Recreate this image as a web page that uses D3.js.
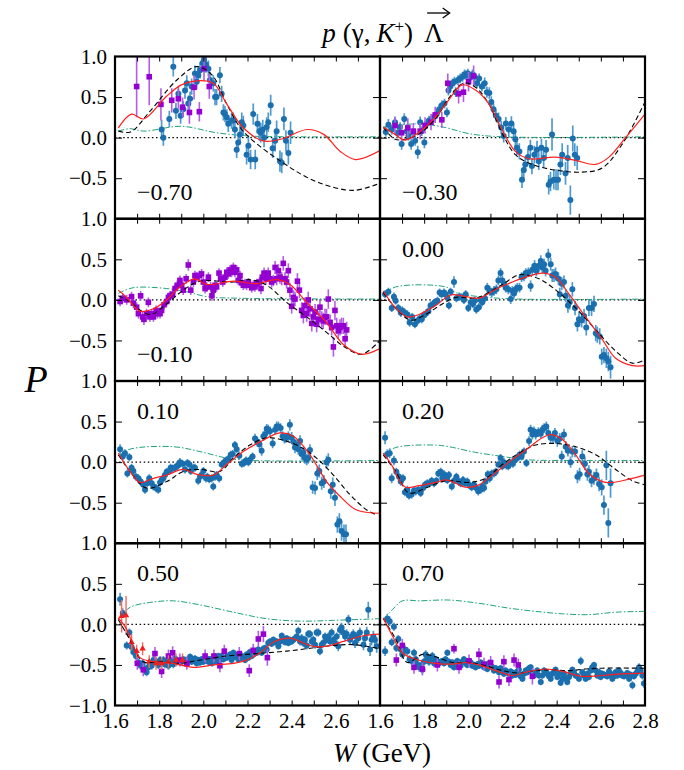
<!DOCTYPE html>
<html>
<head>
<meta charset="utf-8">
<script src="https://cdn.jsdelivr.net/npm/d3@7"></script>
<style>
  html, body { margin: 0; padding: 0; background: #fff; }
  svg { display: block; }
</style>
</head>
<body>
<script>
// Lambda recoil polarisation P vs W for p(γ,K+)Λ, one panel per cosθ bin.
// Each data point is [W (GeV), P, error]; each curve is [W, P].

const panelLabels = ["−0.70", "−0.30", "−0.10", "0.00", "0.10", "0.20", "0.50", "0.70"];
const xTickLabels = [1.6, 1.8, 2.0, 2.2, 2.4, 2.6, 2.8];
const yTickLabels = [1.0, 0.5, 0.0, -0.5];

// ---- cos = -0.70 ----
const blueM070 = [[1.811,0.10,0.12],[1.819,0.00,0.10],[1.846,0.23,0.10],[1.864,0.875,0.12],[1.876,0.33,0.10],[1.887,0.54,0.10],[1.897,0.27,0.10],[1.909,0.35,0.10],[1.917,0.58,0.10],[1.925,0.67,0.10],[1.932,0.42,0.10],[1.940,0.48,0.09],[1.947,0.63,0.10],[1.962,0.79,0.10],[1.970,0.69,0.09],[1.977,0.77,0.10],[1.985,0.83,0.10],[1.997,0.92,0.10],[2.003,0.96,0.10],[2.012,0.90,0.10],[2.023,0.85,0.10],[2.030,0.71,0.10],[2.045,0.67,0.10],[2.053,0.50,0.10],[2.060,0.50,0.10],[2.075,0.77,0.10],[2.083,0.54,0.10],[2.091,0.31,0.10],[2.098,0.29,0.10],[2.106,0.25,0.10],[2.113,0.17,0.10],[2.128,0.21,0.10],[2.136,0.21,0.10],[2.143,0.10,0.10],[2.151,-0.15,0.10],[2.158,-0.06,0.10],[2.166,0.04,0.12],[2.174,0.19,0.12],[2.181,0.15,0.12],[2.196,-0.21,0.12],[2.204,-0.10,0.12],[2.214,-0.27,0.12],[2.226,0.29,0.13],[2.235,-0.27,0.12],[2.245,0.17,0.12],[2.254,0.08,0.12],[2.260,0.06,0.12],[2.269,0.10,0.12],[2.275,0.00,0.12],[2.287,0.13,0.12],[2.294,0.19,0.12],[2.305,0.40,0.13],[2.314,-0.13,0.12],[2.325,-0.04,0.13],[2.332,0.08,0.13],[2.347,-0.29,0.13],[2.355,-0.31,0.13],[2.365,0.23,0.14],[2.374,-0.04,0.13],[2.385,-0.19,0.14],[2.395,0.06,0.14]];
const purpleM070 = [[1.698,0.63,0.38],[1.755,0.75,0.35],[1.808,0.41,0.20],[1.857,0.46,0.15],[1.887,0.48,0.12],[1.906,0.375,0.12],[1.937,0.31,0.14],[1.958,0.62,0.15],[1.982,0.32,0.12],[2.003,0.85,0.15],[2.027,0.63,0.15]];
const redM070 = [[1.615,0.12],[1.675,0.29],[1.73,0.23],[1.83,0.50],[1.90,0.65],[1.97,0.70],[2.045,0.67],[2.105,0.42],[2.18,0.125],[2.27,-0.04],[2.35,-0.02],[2.47,0.10],[2.545,0.04],[2.62,-0.17],[2.69,-0.27],[2.8,-0.16]];
const blackM070 = [[1.615,0.08],[1.67,0.07],[1.76,0.33],[1.88,0.71],[1.97,0.875],[2.04,0.77],[2.105,0.42],[2.18,0.08],[2.35,-0.29],[2.51,-0.54],[2.68,-0.65],[2.8,-0.56]];
const greenM070 = [[1.615,0.08],[1.668,0.11],[1.73,0.08],[1.90,0.14],[2.06,0.06],[2.21,0.02],[2.4,0.01],[2.8,0.01]];

// ---- cos = -0.30 ----
const blueM030 = [[1.626,0.07,0.06],[1.638,0.16,0.07],[1.653,0.10,0.06],[1.668,0.19,0.07],[1.680,0.06,0.06],[1.691,0.13,0.06],[1.698,-0.08,0.07],[1.710,0.23,0.07],[1.721,0.08,0.06],[1.729,0.02,0.06],[1.741,-0.08,0.07],[1.751,0.06,0.06],[1.759,-0.04,0.06],[1.771,-0.18,0.08],[1.782,0.19,0.07],[1.789,0.08,0.06],[1.801,-0.06,0.07],[1.812,0.17,0.06],[1.822,0.21,0.06],[1.835,0.23,0.06],[1.844,0.25,0.06],[1.857,0.29,0.06],[1.868,0.35,0.06],[1.880,0.40,0.06],[1.892,0.42,0.06],[1.903,0.31,0.06],[1.910,0.58,0.06],[1.918,0.63,0.06],[1.928,0.67,0.06],[1.937,0.69,0.06],[1.943,0.56,0.06],[1.953,0.71,0.06],[1.963,0.73,0.06],[1.974,0.75,0.06],[1.983,0.78,0.06],[1.990,0.77,0.06],[1.998,0.79,0.06],[2.009,0.74,0.06],[2.019,0.78,0.06],[2.028,0.75,0.06],[2.039,0.67,0.06],[2.049,0.73,0.06],[2.061,0.63,0.06],[2.074,0.67,0.07],[2.084,0.56,0.07],[2.095,0.55,0.07],[2.104,0.44,0.07],[2.114,0.35,0.07],[2.125,0.27,0.07],[2.137,0.23,0.08],[2.149,0.125,0.08],[2.160,0.02,0.08],[2.170,0.175,0.08],[2.183,0.10,0.09],[2.195,0.175,0.09],[2.205,0.08,0.09],[2.213,-0.02,0.09],[2.220,-0.125,0.09],[2.231,-0.17,0.10],[2.243,-0.52,0.10],[2.251,-0.40,0.10],[2.258,-0.33,0.10],[2.270,-0.24,0.10],[2.281,-0.125,0.10],[2.288,-0.35,0.10],[2.299,-0.21,0.11],[2.311,-0.15,0.11],[2.319,-0.29,0.11],[2.331,-0.125,0.11],[2.341,-0.25,0.12],[2.352,-0.15,0.12],[2.364,-0.58,0.12],[2.372,-0.54,0.12],[2.379,0.04,0.20],[2.387,-0.52,0.12],[2.397,-0.52,0.13],[2.406,-0.52,0.13],[2.417,-0.33,0.13],[2.425,-0.21,0.14],[2.440,-0.44,0.14],[2.450,-0.25,0.16],[2.462,-0.77,0.18],[2.473,-0.01,0.16],[2.482,-0.21,0.14],[2.493,-0.25,0.15]];
const purpleM030 = [[1.668,0.15,0.10],[1.698,0.06,0.10],[1.726,0.12,0.12],[1.751,0.08,0.10],[1.782,0.08,0.10],[1.804,0.15,0.10],[1.831,0.19,0.10],[1.850,0.28,0.10],[1.880,0.22,0.10],[1.907,0.67,0.12],[1.956,0.54,0.12],[1.978,0.56,0.12],[2.001,0.69,0.12],[2.024,0.76,0.13]];
const redM030 = [[1.615,0.13],[1.668,0.04],[1.713,-0.03],[1.774,0.06],[1.850,0.25],[1.910,0.46],[1.971,0.65],[2.031,0.59],[2.092,0.42],[2.152,0.10],[2.213,-0.17],[2.273,-0.26],[2.394,-0.24],[2.485,-0.28],[2.576,-0.33],[2.637,-0.24],[2.712,0.0],[2.8,0.29]];
const blackM030 = [[1.615,0.125],[1.668,-0.02],[1.713,-0.02],[1.774,0.04],[1.850,0.23],[1.910,0.48],[1.979,0.67],[2.031,0.625],[2.092,0.42],[2.152,0.06],[2.213,-0.21],[2.288,-0.33],[2.394,-0.40],[2.515,-0.425],[2.606,-0.375],[2.697,-0.08],[2.8,0.44]];
const greenM030 = [[1.615,0.13],[1.774,0.17],[1.895,0.125],[2.001,0.05],[2.152,0.01],[2.8,0.01]];

// ---- cos = -0.10 ----
const purpleM010 = [[1.623,-0.02,0.06],[1.635,0.02,0.06],[1.653,0.00,0.06],[1.675,0.04,0.06],[1.683,-0.04,0.06],[1.698,-0.09,0.06],[1.706,-0.17,0.06],[1.716,0.05,0.06],[1.725,-0.21,0.06],[1.731,-0.24,0.07],[1.743,-0.17,0.06],[1.751,-0.03,0.06],[1.758,-0.21,0.06],[1.766,-0.17,0.06],[1.774,-0.21,0.06],[1.786,-0.13,0.06],[1.792,-0.17,0.06],[1.804,-0.17,0.06],[1.811,-0.13,0.06],[1.822,-0.06,0.06],[1.834,-0.02,0.06],[1.842,0.03,0.06],[1.849,0.05,0.06],[1.861,0.07,0.06],[1.872,0.14,0.06],[1.882,0.18,0.06],[1.894,0.24,0.06],[1.902,0.18,0.06],[1.909,0.12,0.06],[1.922,0.26,0.06],[1.932,0.43,0.07],[1.943,0.12,0.06],[1.955,0.22,0.06],[1.962,0.30,0.06],[1.970,0.28,0.06],[1.982,0.30,0.06],[1.992,0.32,0.06],[2.000,0.22,0.06],[2.008,0.14,0.06],[2.015,0.16,0.06],[2.023,0.28,0.06],[2.033,0.16,0.06],[2.039,0.05,0.06],[2.045,0.12,0.06],[2.053,0.18,0.06],[2.060,0.16,0.06],[2.071,0.33,0.06],[2.078,0.26,0.06],[2.088,0.22,0.06],[2.098,0.28,0.06],[2.106,0.34,0.06],[2.113,0.32,0.06],[2.121,0.37,0.06],[2.128,0.34,0.06],[2.136,0.40,0.06],[2.143,0.34,0.06],[2.151,0.37,0.06],[2.158,0.24,0.06],[2.166,0.30,0.06],[2.174,0.21,0.06],[2.181,0.18,0.06],[2.189,0.20,0.06],[2.196,0.18,0.06],[2.204,0.21,0.06],[2.211,0.18,0.06],[2.219,0.15,0.06],[2.226,0.18,0.06],[2.234,0.16,0.06],[2.242,0.20,0.06],[2.254,0.22,0.06],[2.261,0.14,0.07],[2.267,0.28,0.07],[2.275,0.33,0.07],[2.284,0.26,0.07],[2.294,0.33,0.07],[2.302,0.26,0.07],[2.309,0.22,0.07],[2.317,0.24,0.07],[2.325,0.40,0.08],[2.332,0.26,0.08],[2.340,0.36,0.08],[2.347,0.28,0.08],[2.355,0.26,0.08],[2.362,0.45,0.09],[2.370,0.26,0.08],[2.377,0.22,0.08],[2.385,0.36,0.09],[2.392,0.12,0.09],[2.400,-0.08,0.09],[2.408,0.03,0.09],[2.415,0.01,0.09],[2.426,0.23,0.10],[2.435,0.12,0.10],[2.445,-0.13,0.10],[2.453,-0.19,0.10],[2.460,-0.07,0.10],[2.468,-0.17,0.10],[2.475,0.00,0.10],[2.483,-0.11,0.10],[2.491,-0.29,0.10],[2.498,-0.21,0.10],[2.506,-0.15,0.10],[2.513,-0.30,0.10],[2.521,-0.24,0.10],[2.528,-0.09,0.10],[2.536,-0.24,0.10],[2.543,-0.26,0.10],[2.551,-0.21,0.10],[2.558,-0.21,0.10],[2.566,0.01,0.12],[2.574,-0.28,0.10],[2.581,-0.34,0.10],[2.589,-0.58,0.12],[2.596,-0.13,0.12],[2.604,-0.32,0.10],[2.611,-0.38,0.10],[2.619,-0.34,0.10],[2.626,-0.32,0.10],[2.634,-0.32,0.10],[2.642,-0.48,0.10],[2.649,-0.37,0.10]];
const redM010 = [[1.615,0.12],[1.653,0.03],[1.713,-0.14],[1.774,-0.11],[1.834,0.00],[1.894,0.16],[1.962,0.26],[2.015,0.19],[2.136,0.23],[2.242,0.20],[2.332,0.25],[2.392,0.19],[2.468,-0.03],[2.558,-0.28],[2.634,-0.55],[2.717,-0.67],[2.8,-0.60]];
const blackM010 = [[1.615,0.05],[1.653,0.00],[1.758,-0.18],[1.834,-0.05],[1.909,0.12],[1.985,0.23],[2.136,0.22],[2.211,0.25],[2.287,0.18],[2.377,-0.03],[2.468,-0.21],[2.558,-0.40],[2.634,-0.57],[2.717,-0.67],[2.8,-0.50]];
const greenM010 = [[1.615,0.08],[1.683,0.15],[1.834,0.14],[1.925,0.10],[2.015,0.04],[2.166,0.02],[2.8,0.01]];

// ---- cos = 0.00 ----
const blueP000 = [[1.623,0.07,0.05],[1.638,0.10,0.05],[1.653,-0.10,0.05],[1.663,0.04,0.05],[1.671,-0.01,0.05],[1.683,-0.10,0.05],[1.694,-0.16,0.05],[1.701,-0.13,0.05],[1.713,-0.16,0.05],[1.724,-0.18,0.05],[1.734,-0.28,0.05],[1.746,-0.21,0.05],[1.758,-0.30,0.05],[1.769,-0.26,0.05],[1.780,-0.23,0.05],[1.789,-0.24,0.05],[1.799,-0.19,0.05],[1.807,-0.17,0.05],[1.819,-0.14,0.05],[1.829,-0.07,0.05],[1.840,-0.05,0.05],[1.849,-0.03,0.05],[1.860,-0.01,0.05],[1.870,0.09,0.05],[1.879,0.07,0.05],[1.890,0.09,0.05],[1.897,0.07,0.05],[1.905,0.03,0.05],[1.912,-0.07,0.05],[1.920,0.10,0.05],[1.935,0.22,0.07],[1.946,0.02,0.05],[1.958,0.04,0.05],[1.970,0.03,0.05],[1.980,0.00,0.05],[1.988,0.07,0.05],[2.000,-0.10,0.05],[2.011,-0.03,0.05],[2.021,-0.05,0.05],[2.030,-0.01,0.05],[2.036,-0.12,0.05],[2.048,-0.09,0.05],[2.056,0.00,0.05],[2.063,-0.03,0.05],[2.075,0.02,0.05],[2.086,0.15,0.06],[2.097,0.11,0.06],[2.106,0.09,0.06],[2.116,0.11,0.06],[2.127,0.13,0.06],[2.136,0.24,0.06],[2.146,0.33,0.06],[2.154,0.24,0.06],[2.161,0.20,0.06],[2.169,0.15,0.06],[2.181,0.13,0.06],[2.192,0.01,0.06],[2.199,0.11,0.06],[2.207,0.08,0.06],[2.214,0.13,0.06],[2.222,0.15,0.06],[2.232,0.15,0.06],[2.241,0.28,0.06],[2.252,0.29,0.06],[2.260,0.33,0.06],[2.272,0.34,0.06],[2.282,0.17,0.07],[2.290,0.37,0.07],[2.300,0.42,0.07],[2.308,0.36,0.07],[2.320,0.42,0.07],[2.328,0.48,0.07],[2.335,0.40,0.07],[2.343,0.44,0.07],[2.350,0.36,0.07],[2.362,0.55,0.08],[2.373,0.44,0.08],[2.380,0.30,0.08],[2.388,0.30,0.08],[2.395,0.32,0.08],[2.408,0.26,0.08],[2.414,0.07,0.08],[2.423,0.20,0.08],[2.433,0.22,0.08],[2.441,0.05,0.08],[2.451,-0.07,0.09],[2.459,-0.03,0.09],[2.471,0.13,0.09],[2.483,-0.10,0.09],[2.494,-0.30,0.09],[2.501,-0.24,0.09],[2.513,-0.25,0.09],[2.524,-0.20,0.09],[2.534,-0.34,0.10],[2.546,-0.10,0.10],[2.558,-0.10,0.10],[2.569,-0.05,0.10],[2.577,-0.41,0.10],[2.584,-0.43,0.10],[2.595,-0.45,0.10],[2.604,-0.70,0.10],[2.614,-0.68,0.10],[2.625,-0.72,0.12],[2.634,-0.76,0.12],[2.644,-0.83,0.14]];
const redP000 = [[1.615,0.11],[1.671,-0.10],[1.724,-0.21],[1.777,-0.18],[1.852,-0.07],[1.920,0.06],[1.973,0.05],[2.048,0.02],[2.124,0.13],[2.199,0.22],[2.260,0.28],[2.335,0.33],[2.395,0.28],[2.456,0.07],[2.531,-0.21],[2.607,-0.49],[2.667,-0.72],[2.743,-0.81],[2.8,-0.81]];
const blackP000 = [[1.615,0.09],[1.671,-0.10],[1.739,-0.25],[1.807,-0.18],[1.882,-0.05],[1.943,0.03],[2.018,0.02],[2.063,0.05],[2.154,0.19],[2.229,0.31],[2.275,0.30],[2.335,0.24],[2.410,0.09],[2.486,-0.10],[2.577,-0.37],[2.667,-0.63],[2.743,-0.78],[2.8,-0.74]];
const greenP000 = [[1.615,0.07],[1.671,0.16],[1.897,0.16],[1.943,0.09],[2.048,0.04],[2.229,0.01],[2.8,0.01]];

// ---- cos = 0.10 ----
const blueP010 = [[1.623,0.16,0.06],[1.635,0.07,0.05],[1.645,0.11,0.05],[1.656,-0.14,0.05],[1.665,0.06,0.05],[1.675,-0.07,0.05],[1.683,-0.11,0.05],[1.695,-0.18,0.05],[1.706,-0.20,0.05],[1.716,-0.24,0.05],[1.728,-0.28,0.05],[1.736,-0.34,0.05],[1.746,-0.26,0.05],[1.755,-0.20,0.05],[1.766,-0.26,0.05],[1.774,-0.30,0.05],[1.786,-0.32,0.05],[1.796,-0.34,0.05],[1.804,-0.25,0.05],[1.811,-0.22,0.05],[1.819,-0.20,0.05],[1.826,-0.16,0.05],[1.834,-0.12,0.05],[1.846,-0.11,0.05],[1.852,-0.07,0.05],[1.861,-0.08,0.05],[1.872,-0.07,0.05],[1.879,-0.05,0.05],[1.887,-0.04,0.05],[1.894,0.00,0.05],[1.906,-0.02,0.05],[1.917,-0.09,0.05],[1.928,-0.01,0.05],[1.937,-0.03,0.05],[1.943,-0.11,0.05],[1.955,-0.07,0.05],[1.962,-0.07,0.05],[1.977,-0.23,0.05],[1.985,-0.18,0.05],[1.992,-0.16,0.05],[2.000,-0.11,0.05],[2.012,-0.20,0.05],[2.018,-0.18,0.05],[2.027,-0.21,0.05],[2.038,-0.20,0.05],[2.045,-0.30,0.05],[2.053,-0.18,0.05],[2.060,-0.16,0.05],[2.072,-0.20,0.05],[2.083,-0.03,0.05],[2.094,0.00,0.05],[2.103,0.02,0.05],[2.113,0.04,0.05],[2.124,0.09,0.05],[2.133,0.10,0.05],[2.143,0.21,0.05],[2.151,0.16,0.05],[2.163,0.08,0.05],[2.174,-0.02,0.05],[2.184,-0.01,0.05],[2.193,0.02,0.05],[2.204,0.00,0.05],[2.211,0.03,0.05],[2.223,0.07,0.05],[2.234,0.29,0.06],[2.245,0.25,0.06],[2.254,0.22,0.06],[2.264,0.14,0.06],[2.272,0.32,0.06],[2.279,0.34,0.06],[2.287,0.41,0.06],[2.294,0.40,0.06],[2.302,0.38,0.06],[2.314,0.23,0.06],[2.325,0.40,0.06],[2.332,0.44,0.06],[2.340,0.44,0.06],[2.350,0.42,0.06],[2.359,0.32,0.06],[2.367,0.29,0.06],[2.374,0.30,0.06],[2.385,0.32,0.06],[2.392,0.46,0.07],[2.400,0.30,0.07],[2.408,0.25,0.07],[2.415,0.18,0.07],[2.423,0.21,0.07],[2.430,0.16,0.07],[2.438,0.26,0.07],[2.445,0.10,0.07],[2.453,0.12,0.07],[2.460,0.05,0.07],[2.468,0.03,0.07],[2.475,0.05,0.07],[2.483,0.15,0.07],[2.495,-0.31,0.08],[2.506,-0.32,0.08],[2.516,-0.14,0.08],[2.525,-0.11,0.08],[2.536,-0.26,0.08],[2.546,-0.24,0.08],[2.558,0.00,0.08],[2.566,0.03,0.08],[2.577,-0.36,0.09],[2.586,-0.28,0.09],[2.596,-0.44,0.10],[2.607,-0.77,0.10],[2.616,-0.73,0.10],[2.626,-0.85,0.12],[2.637,-0.89,0.12],[2.646,-0.89,0.12]];
const redP010 = [[1.615,0.11],[1.668,-0.115],[1.713,-0.25],[1.774,-0.20],[1.834,-0.16],[1.909,-0.09],[1.970,-0.15],[2.045,-0.16],[2.106,-0.03],[2.181,0.13],[2.257,0.25],[2.347,0.36],[2.408,0.32],[2.483,0.09],[2.558,-0.24],[2.619,-0.42],[2.694,-0.59],[2.8,-0.63]];
const blackP010 = [[1.615,0.09],[1.668,-0.115],[1.743,-0.32],[1.834,-0.24],[1.909,-0.115],[1.985,-0.09],[2.075,-0.115],[2.136,0.05],[2.211,0.21],[2.287,0.30],[2.362,0.27],[2.438,0.19],[2.513,0.05],[2.589,-0.16],[2.664,-0.40],[2.740,-0.59],[2.785,-0.65]];
const greenP010 = [[1.615,0.08],[1.668,0.16],[1.864,0.19],[1.985,0.13],[2.106,0.05],[2.226,0.02],[2.8,0.02]];

// ---- cos = 0.20 ----
const blueP020 = [[1.623,0.30,0.08],[1.633,0.10,0.06],[1.644,0.11,0.06],[1.653,-0.20,0.06],[1.663,0.02,0.06],[1.674,-0.12,0.05],[1.686,-0.18,0.05],[1.694,-0.24,0.05],[1.704,-0.20,0.05],[1.713,-0.37,0.05],[1.724,-0.34,0.05],[1.731,-0.41,0.05],[1.743,-0.40,0.05],[1.754,-0.35,0.05],[1.762,-0.36,0.05],[1.774,-0.34,0.05],[1.784,-0.38,0.05],[1.795,-0.32,0.05],[1.804,-0.28,0.05],[1.814,-0.26,0.05],[1.825,-0.26,0.05],[1.834,-0.23,0.05],[1.845,-0.26,0.05],[1.855,-0.23,0.05],[1.864,-0.14,0.05],[1.875,-0.12,0.05],[1.882,-0.20,0.05],[1.890,-0.15,0.05],[1.897,-0.20,0.05],[1.905,-0.22,0.05],[1.912,-0.16,0.05],[1.925,-0.30,0.05],[1.935,-0.23,0.05],[1.946,-0.18,0.05],[1.958,-0.24,0.05],[1.965,-0.26,0.05],[1.976,-0.22,0.05],[1.985,-0.26,0.05],[1.995,-0.24,0.05],[2.003,-0.28,0.05],[2.015,-0.31,0.05],[2.026,-0.28,0.05],[2.036,-0.32,0.05],[2.045,-0.36,0.05],[2.056,-0.34,0.05],[2.063,-0.30,0.05],[2.071,-0.32,0.05],[2.078,-0.24,0.05],[2.088,-0.15,0.05],[2.097,-0.20,0.05],[2.106,-0.14,0.05],[2.116,-0.14,0.05],[2.124,-0.12,0.05],[2.136,-0.03,0.05],[2.146,0.05,0.05],[2.154,-0.05,0.05],[2.161,0.00,0.05],[2.172,-0.04,0.05],[2.181,-0.05,0.05],[2.192,-0.01,0.05],[2.202,-0.02,0.05],[2.211,0.03,0.05],[2.222,0.05,0.05],[2.232,0.09,0.05],[2.241,0.07,0.05],[2.252,0.13,0.05],[2.263,-0.01,0.05],[2.275,0.26,0.06],[2.282,0.40,0.06],[2.290,0.34,0.06],[2.297,0.38,0.06],[2.305,0.34,0.06],[2.317,0.37,0.06],[2.328,0.35,0.06],[2.335,0.40,0.06],[2.343,0.42,0.06],[2.353,0.44,0.06],[2.362,0.36,0.06],[2.373,0.30,0.06],[2.383,0.30,0.06],[2.392,0.36,0.06],[2.403,0.26,0.07],[2.414,0.29,0.07],[2.423,0.07,0.07],[2.433,0.34,0.07],[2.441,0.19,0.07],[2.451,0.14,0.07],[2.463,0.00,0.07],[2.471,0.13,0.07],[2.483,0.13,0.07],[2.494,-0.18,0.08],[2.504,-0.15,0.08],[2.516,0.07,0.08],[2.528,-0.02,0.08],[2.539,-0.15,0.08],[2.546,-0.12,0.08],[2.558,-0.23,0.08],[2.569,-0.20,0.08],[2.580,-0.16,0.08],[2.592,-0.27,0.09],[2.604,-0.31,0.10],[2.614,-0.53,0.12],[2.625,-0.04,0.18],[2.634,-0.75,0.18],[2.644,-0.26,0.18]];
const redP020 = [[1.615,0.11],[1.656,-0.05],[1.686,-0.22],[1.716,-0.31],[1.777,-0.29],[1.852,-0.25],[1.897,-0.22],[1.943,-0.26],[1.988,-0.31],[2.048,-0.28],[2.109,-0.16],[2.184,0.00],[2.260,0.15],[2.335,0.30],[2.373,0.34],[2.426,0.28],[2.486,0.09],[2.546,-0.14],[2.607,-0.24],[2.652,-0.25],[2.728,-0.21],[2.8,-0.16]];
const blackP020 = [[1.615,0.09],[1.671,-0.115],[1.731,-0.38],[1.807,-0.32],[1.897,-0.23],[2.003,-0.25],[2.078,-0.20],[2.154,-0.03],[2.229,0.11],[2.305,0.21],[2.396,0.23],[2.486,0.19],[2.577,0.09],[2.667,-0.09],[2.743,-0.23],[2.8,-0.28]];
const greenP020 = [[1.615,0.09],[1.671,0.18],[1.852,0.21],[1.912,0.19],[2.033,0.12],[2.154,0.07],[2.260,0.03],[2.456,0.02],[2.8,0.02]];

// ---- cos = 0.50 ----
const blueP050 = [[1.623,0.31,0.08],[1.635,0.14,0.06],[1.653,-0.26,0.05],[1.665,-0.10,0.05],[1.675,-0.28,0.05],[1.683,-0.34,0.05],[1.695,-0.39,0.05],[1.706,-0.47,0.05],[1.716,-0.51,0.05],[1.725,-0.48,0.05],[1.736,-0.55,0.05],[1.743,-0.59,0.05],[1.751,-0.53,0.05],[1.758,-0.49,0.05],[1.766,-0.51,0.05],[1.774,-0.44,0.05],[1.786,-0.46,0.05],[1.796,-0.50,0.05],[1.804,-0.44,0.05],[1.811,-0.47,0.05],[1.819,-0.44,0.05],[1.826,-0.49,0.05],[1.834,-0.46,0.05],[1.842,-0.51,0.05],[1.849,-0.44,0.05],[1.857,-0.47,0.05],[1.864,-0.49,0.05],[1.872,-0.42,0.05],[1.879,-0.46,0.05],[1.894,-0.47,0.04],[1.902,-0.44,0.04],[1.909,-0.43,0.04],[1.917,-0.44,0.04],[1.925,-0.49,0.04],[1.932,-0.43,0.04],[1.940,-0.40,0.04],[1.947,-0.46,0.04],[1.955,-0.44,0.04],[1.962,-0.42,0.04],[1.970,-0.48,0.04],[1.977,-0.44,0.04],[1.985,-0.47,0.04],[1.992,-0.43,0.04],[2.000,-0.46,0.04],[2.008,-0.44,0.04],[2.015,-0.42,0.04],[2.023,-0.46,0.04],[2.030,-0.43,0.04],[2.038,-0.48,0.04],[2.045,-0.44,0.04],[2.053,-0.40,0.04],[2.060,-0.46,0.04],[2.068,-0.39,0.04],[2.075,-0.44,0.04],[2.083,-0.39,0.04],[2.091,-0.43,0.04],[2.098,-0.39,0.04],[2.106,-0.41,0.04],[2.113,-0.40,0.04],[2.121,-0.37,0.04],[2.128,-0.44,0.04],[2.136,-0.35,0.04],[2.143,-0.40,0.04],[2.151,-0.38,0.04],[2.158,-0.43,0.04],[2.166,-0.37,0.04],[2.174,-0.41,0.04],[2.181,-0.40,0.04],[2.189,-0.44,0.04],[2.196,-0.37,0.04],[2.204,-0.41,0.04],[2.211,-0.34,0.04],[2.219,-0.39,0.04],[2.226,-0.37,0.04],[2.234,-0.33,0.04],[2.242,-0.35,0.04],[2.249,-0.31,0.04],[2.257,-0.33,0.04],[2.264,-0.35,0.04],[2.272,-0.30,0.04],[2.279,-0.29,0.04],[2.287,-0.31,0.04],[2.294,-0.23,0.04],[2.302,-0.21,0.04],[2.309,-0.24,0.04],[2.317,-0.19,0.04],[2.325,-0.22,0.04],[2.332,-0.21,0.04],[2.340,-0.27,0.04],[2.347,-0.21,0.04],[2.355,-0.14,0.04],[2.362,-0.19,0.04],[2.370,-0.22,0.04],[2.377,-0.17,0.04],[2.385,-0.23,0.04],[2.392,-0.19,0.04],[2.400,-0.21,0.04],[2.408,-0.19,0.04],[2.415,-0.17,0.04],[2.423,-0.15,0.05],[2.430,-0.08,0.05],[2.438,-0.21,0.05],[2.445,-0.17,0.05],[2.453,-0.23,0.05],[2.460,-0.19,0.05],[2.468,-0.26,0.05],[2.475,-0.12,0.05],[2.483,-0.12,0.05],[2.491,-0.21,0.05],[2.498,-0.19,0.05],[2.506,-0.25,0.05],[2.513,-0.10,0.05],[2.521,-0.10,0.05],[2.528,-0.33,0.05],[2.536,-0.25,0.05],[2.543,-0.23,0.05],[2.551,-0.15,0.05],[2.558,-0.19,0.05],[2.566,-0.15,0.05],[2.574,-0.21,0.05],[2.581,-0.10,0.05],[2.589,-0.19,0.05],[2.596,-0.23,0.05],[2.604,-0.15,0.05],[2.611,-0.27,0.06],[2.619,-0.07,0.06],[2.626,-0.04,0.06],[2.634,-0.10,0.06],[2.642,-0.15,0.06],[2.649,-0.12,0.06],[2.657,0.06,0.06],[2.664,-0.19,0.06],[2.672,-0.15,0.06],[2.679,-0.12,0.06],[2.687,-0.23,0.06],[2.694,-0.15,0.06],[2.702,-0.17,0.06],[2.709,-0.10,0.06],[2.725,-0.25,0.07],[2.732,-0.17,0.07],[2.740,-0.10,0.07],[2.747,0.18,0.10],[2.755,-0.31,0.08],[2.762,-0.19,0.07],[2.770,-0.15,0.07],[2.777,-0.19,0.07],[2.785,-0.27,0.08]];
const purpleP050 = [[1.701,-0.48,0.08],[1.728,-0.56,0.08],[1.781,-0.36,0.08],[1.811,-0.58,0.08],[1.842,-0.39,0.08],[1.861,-0.35,0.08],[1.894,-0.44,0.08],[1.925,-0.48,0.08],[2.008,-0.39,0.08],[2.048,-0.39,0.08],[2.075,-0.51,0.08],[2.095,-0.33,0.08],[2.163,-0.36,0.08],[2.208,-0.57,0.08],[2.226,-0.32,0.08],[2.249,-0.18,0.10],[2.272,-0.12,0.10],[2.290,-0.41,0.10]];
const triangleP050 = [[1.630,0.10,0.20],[1.650,0.11,0.24],[1.675,-0.22,0.10],[1.698,-0.33,0.08],[1.725,-0.30,0.08],[1.755,-0.46,0.08],[1.786,-0.48,0.08],[1.811,-0.48,0.08],[1.842,-0.46,0.08],[1.876,-0.44,0.08],[1.906,-0.44,0.08]];
const redP050 = [[1.615,0.08],[1.653,-0.06],[1.683,-0.27],[1.713,-0.41],[1.774,-0.46],[1.864,-0.48],[1.955,-0.53],[2.045,-0.50],[2.136,-0.48],[2.196,-0.44],[2.257,-0.35],[2.317,-0.22],[2.392,-0.17],[2.453,-0.23],[2.498,-0.27],[2.558,-0.27],[2.634,-0.21],[2.725,-0.14],[2.8,-0.12]];
const blackP050 = [[1.615,0.06],[1.668,-0.19],[1.728,-0.46],[1.804,-0.46],[1.894,-0.48],[1.985,-0.44],[2.106,-0.39],[2.196,-0.37],[2.287,-0.35],[2.377,-0.33],[2.468,-0.30],[2.589,-0.26],[2.679,-0.25],[2.8,-0.30]];
const greenP050 = [[1.615,0.06],[1.668,0.21],[1.758,0.27],[1.864,0.29],[1.985,0.24],[2.136,0.15],[2.287,0.07],[2.438,0.04],[2.589,0.05],[2.8,0.07]];

// ---- cos = 0.70 ----
const blueP070 = [[1.623,-0.33,0.06],[1.633,0.07,0.06],[1.644,0.04,0.06],[1.653,-0.22,0.05],[1.663,-0.03,0.05],[1.674,-0.29,0.05],[1.683,-0.18,0.05],[1.694,-0.31,0.05],[1.701,-0.37,0.05],[1.713,-0.31,0.05],[1.724,-0.33,0.05],[1.734,-0.43,0.05],[1.743,-0.45,0.05],[1.754,-0.35,0.05],[1.762,-0.43,0.05],[1.769,-0.49,0.05],[1.777,-0.53,0.05],[1.784,-0.51,0.05],[1.792,-0.56,0.05],[1.799,-0.46,0.05],[1.807,-0.37,0.05],[1.814,-0.41,0.05],[1.822,-0.46,0.05],[1.829,-0.43,0.05],[1.837,-0.39,0.05],[1.845,-0.48,0.05],[1.852,-0.43,0.04],[1.860,-0.45,0.04],[1.867,-0.48,0.04],[1.875,-0.46,0.04],[1.882,-0.45,0.04],[1.890,-0.48,0.04],[1.897,-0.43,0.04],[1.905,-0.35,0.04],[1.912,-0.46,0.04],[1.920,-0.50,0.04],[1.928,-0.47,0.04],[1.935,-0.53,0.04],[1.943,-0.48,0.04],[1.950,-0.45,0.04],[1.958,-0.48,0.04],[1.965,-0.51,0.04],[1.973,-0.46,0.04],[1.980,-0.43,0.04],[1.988,-0.48,0.04],[1.995,-0.50,0.04],[2.003,-0.45,0.04],[2.011,-0.47,0.04],[2.018,-0.51,0.04],[2.026,-0.50,0.04],[2.033,-0.53,0.04],[2.041,-0.49,0.04],[2.048,-0.51,0.04],[2.056,-0.47,0.04],[2.063,-0.49,0.04],[2.071,-0.53,0.04],[2.078,-0.51,0.04],[2.086,-0.55,0.04],[2.094,-0.48,0.04],[2.101,-0.51,0.04],[2.109,-0.53,0.04],[2.116,-0.57,0.04],[2.124,-0.54,0.04],[2.131,-0.56,0.04],[2.139,-0.59,0.04],[2.146,-0.54,0.04],[2.154,-0.57,0.04],[2.161,-0.61,0.04],[2.169,-0.57,0.04],[2.177,-0.59,0.04],[2.184,-0.61,0.04],[2.192,-0.58,0.04],[2.199,-0.63,0.04],[2.207,-0.60,0.04],[2.214,-0.62,0.04],[2.222,-0.58,0.04],[2.229,-0.56,0.04],[2.237,-0.64,0.04],[2.245,-0.67,0.04],[2.252,-0.61,0.04],[2.260,-0.57,0.04],[2.267,-0.59,0.04],[2.275,-0.54,0.04],[2.282,-0.53,0.04],[2.290,-0.59,0.04],[2.297,-0.63,0.04],[2.305,-0.61,0.04],[2.312,-0.57,0.04],[2.320,-0.63,0.04],[2.328,-0.71,0.04],[2.335,-0.63,0.04],[2.343,-0.57,0.04],[2.350,-0.59,0.04],[2.358,-0.61,0.04],[2.365,-0.64,0.04],[2.373,-0.67,0.04],[2.380,-0.61,0.04],[2.388,-0.59,0.04],[2.395,-0.56,0.04],[2.403,-0.65,0.04],[2.411,-0.61,0.04],[2.418,-0.72,0.04],[2.426,-0.67,0.04],[2.433,-0.61,0.04],[2.441,-0.67,0.04],[2.448,-0.71,0.04],[2.456,-0.65,0.04],[2.463,-0.61,0.04],[2.471,-0.56,0.04],[2.478,-0.59,0.04],[2.486,-0.63,0.04],[2.494,-0.64,0.04],[2.501,-0.67,0.04],[2.509,-0.45,0.05],[2.516,-0.59,0.04],[2.524,-0.63,0.04],[2.531,-0.67,0.04],[2.539,-0.61,0.04],[2.546,-0.65,0.04],[2.554,-0.57,0.04],[2.561,-0.53,0.04],[2.569,-0.50,0.04],[2.577,-0.57,0.04],[2.584,-0.63,0.04],[2.592,-0.59,0.04],[2.599,-0.65,0.04],[2.607,-0.61,0.04],[2.614,-0.62,0.04],[2.622,-0.63,0.04],[2.629,-0.64,0.04],[2.637,-0.58,0.04],[2.644,-0.61,0.04],[2.652,-0.67,0.04],[2.660,-0.64,0.04],[2.667,-0.59,0.04],[2.675,-0.63,0.04],[2.682,-0.57,0.04],[2.690,-0.60,0.04],[2.697,-0.63,0.04],[2.705,-0.64,0.04],[2.712,-0.62,0.04],[2.720,-0.60,0.04],[2.728,-0.67,0.04],[2.735,-0.62,0.04],[2.743,-0.75,0.05],[2.750,-0.64,0.04],[2.758,-0.61,0.04],[2.765,-0.58,0.04],[2.773,-0.53,0.05],[2.780,-0.57,0.05],[2.788,-0.63,0.05],[2.795,-0.73,0.05]];
const purpleP070 = [[1.674,-0.44,0.08],[1.701,-0.26,0.08],[1.754,-0.53,0.08],[1.792,-0.55,0.08],[1.860,-0.50,0.08],[1.935,-0.30,0.06],[1.958,-0.53,0.08],[2.003,-0.45,0.08],[2.048,-0.37,0.08],[2.071,-0.49,0.08],[2.101,-0.47,0.08],[2.139,-0.71,0.08],[2.161,-0.46,0.08],[2.184,-0.68,0.08],[2.207,-0.44,0.08],[2.226,-0.50,0.08],[2.290,-0.64,0.10]];
const redP070 = [[1.615,0.08],[1.656,-0.14],[1.701,-0.35],[1.762,-0.43],[1.852,-0.48],[1.928,-0.49],[1.988,-0.47],[2.048,-0.50],[2.124,-0.57],[2.199,-0.63],[2.260,-0.59],[2.350,-0.55],[2.426,-0.58],[2.516,-0.64],[2.607,-0.63],[2.697,-0.61],[2.8,-0.60]];
const blackP070 = [[1.615,0.07],[1.671,-0.18],[1.724,-0.47],[1.792,-0.37],[1.852,-0.40],[1.928,-0.47],[2.003,-0.47],[2.078,-0.51],[2.154,-0.57],[2.229,-0.60],[2.305,-0.57],[2.380,-0.56],[2.456,-0.57],[2.531,-0.55],[2.607,-0.54],[2.8,-0.54]];
const greenP070 = [[1.615,0.06],[1.656,0.18],[1.701,0.29],[1.777,0.29],[1.912,0.30],[2.048,0.26],[2.184,0.20],[2.305,0.16],[2.426,0.13],[2.546,0.12],[2.667,0.15],[2.8,0.16]];

// Panel table assembled from the arrays above
const panels = [
  { label: panelLabels[0], labelAtBottom: true,  blue: blueM070, purple: purpleM070, tri: [], red: redM070, black: blackM070, green: greenM070 },
  { label: panelLabels[1], labelAtBottom: true,  blue: blueM030, purple: purpleM030, tri: [], red: redM030, black: blackM030, green: greenM030 },
  { label: panelLabels[2], labelAtBottom: true,  blue: [],       purple: purpleM010, tri: [], red: redM010, black: blackM010, green: greenM010 },
  { label: panelLabels[3], labelAtBottom: false, blue: blueP000, purple: [],         tri: [], red: redP000, black: blackP000, green: greenP000 },
  { label: panelLabels[4], labelAtBottom: false, blue: blueP010, purple: [],         tri: [], red: redP010, black: blackP010, green: greenP010 },
  { label: panelLabels[5], labelAtBottom: false, blue: blueP020, purple: [],         tri: [], red: redP020, black: blackP020, green: greenP020 },
  { label: panelLabels[6], labelAtBottom: false, blue: blueP050, purple: purpleP050, tri: triangleP050, red: redP050, black: blackP050, green: greenP050 },
  { label: panelLabels[7], labelAtBottom: false, blue: blueP070, purple: purpleP070, tri: [], red: redP070, black: blackP070, green: greenP070 }
];

// ---- layout ----
const WIDTH = 684, HEIGHT = 770;
const gridLeft = 115, panelW = 265;
const gridTop = 56.5, panelH = 162.25;
const SERIF = "'Liberation Serif', 'Times New Roman', Times, serif";
const TICK_FONT = 21;

const svg = d3.select("body").append("svg")
  .attr("width", WIDTH).attr("height", HEIGHT)
  .attr("font-family", SERIF);

const defs = svg.append("defs");

const fmtTick = v => (v < 0 ? "\u2212" : "") + Math.abs(v).toFixed(1);
const minorW = d3.range(16, 29).map(v => v / 10);

panels.forEach((p, i) => {
  const row = Math.floor(i / 2), col = i % 2;
  const x0 = gridLeft + col * panelW, y0 = gridTop + row * panelH;
  const x = d3.scaleLinear().domain([1.6, 2.8]).range([x0, x0 + panelW]);
  const y = d3.scaleLinear().domain([-1, 1]).range([y0 + panelH, y0]);

  const clipId = "clip" + i;
  defs.append("clipPath").attr("id", clipId)
    .append("rect").attr("x", x0).attr("y", y0).attr("width", panelW).attr("height", panelH);

  const g = svg.append("g");
  const plot = g.append("g").attr("clip-path", `url(#${clipId})`);

  const line = d3.line().x(d => x(d[0])).y(d => y(d[1])).curve(d3.curveCatmullRom.alpha(0.5));

  // zero reference line
  plot.append("line")
    .attr("x1", x(1.6)).attr("x2", x(2.8)).attr("y1", y(0)).attr("y2", y(0))
    .attr("stroke", "#000").attr("stroke-width", 1.1).attr("stroke-dasharray", "1.5,2.6");

  // green dash-dot curve
  plot.append("path").datum(p.green).attr("d", line)
    .attr("fill", "none").attr("stroke", "#1fa37a").attr("stroke-width", 1)
    .attr("stroke-dasharray", "6,2,1.5,2");

  // blue circles with error bars
  const bl = plot.append("g");
  bl.selectAll("line").data(p.blue).join("line")
    .attr("x1", d => x(d[0])).attr("x2", d => x(d[0]))
    .attr("y1", d => y(d[1] - d[2])).attr("y2", d => y(d[1] + d[2]))
    .attr("stroke", "#4f9bd0").attr("stroke-width", 1.7);
  bl.selectAll("circle").data(p.blue).join("circle")
    .attr("cx", d => x(d[0])).attr("cy", d => y(d[1])).attr("r", 3)
    .attr("fill", "#1b6fae");

  // purple squares with error bars
  const pu = plot.append("g");
  pu.selectAll("line").data(p.purple).join("line")
    .attr("x1", d => x(d[0])).attr("x2", d => x(d[0]))
    .attr("y1", d => y(d[1] - d[2])).attr("y2", d => y(d[1] + d[2]))
    .attr("stroke", "#b45ee6").attr("stroke-width", 1.6);
  pu.selectAll("rect").data(p.purple).join("rect")
    .attr("x", d => x(d[0]) - 2.8).attr("y", d => y(d[1]) - 2.8)
    .attr("width", 5.6).attr("height", 5.6).attr("fill", "#9300d0");

  // red triangles with error bars
  const tr = plot.append("g");
  tr.selectAll("line").data(p.tri).join("line")
    .attr("x1", d => x(d[0])).attr("x2", d => x(d[0]))
    .attr("y1", d => y(d[1] - d[2])).attr("y2", d => y(d[1] + d[2]))
    .attr("stroke", "#f26a5e").attr("stroke-width", 1.4);
  tr.selectAll("path").data(p.tri).join("path")
    .attr("d", d3.symbol(d3.symbolTriangle, 18))
    .attr("transform", d => `translate(${x(d[0])},${y(d[1])})`)
    .attr("fill", "#f01e1e");

  // model curves
  plot.append("path").datum(p.black).attr("d", line)
    .attr("fill", "none").attr("stroke", "#000").attr("stroke-width", 1.1)
    .attr("stroke-dasharray", "5,3");
  plot.append("path").datum(p.red).attr("d", line)
    .attr("fill", "none").attr("stroke", "#ff1f1f").attr("stroke-width", 1.2);

  // ticks (inward) on all four sides
  const tickAttrs = sel => {
    sel.select(".domain").remove();
    sel.selectAll(".tick line").attr("stroke", "#000").attr("stroke-width", 1);
  };
  g.append("g").attr("transform", `translate(0,${y0 + panelH})`)
    .call(d3.axisBottom(x).tickValues(minorW).tickSize(-5).tickFormat(""))
    .call(tickAttrs);
  g.append("g").attr("transform", `translate(0,${y0})`)
    .call(d3.axisTop(x).tickValues(minorW).tickSize(-5).tickFormat(""))
    .call(tickAttrs);
  g.append("g").attr("transform", `translate(${x0},0)`)
    .call(d3.axisLeft(y).tickValues([-0.5, 0, 0.5]).tickSize(-7).tickFormat(""))
    .call(tickAttrs);
  g.append("g").attr("transform", `translate(${x0 + panelW},0)`)
    .call(d3.axisRight(y).tickValues([-0.5, 0, 0.5]).tickSize(-7).tickFormat(""))
    .call(tickAttrs);

  // y tick labels on the left column
  if (col === 0) {
    const vals = row === 3 ? yTickLabels.concat([-1.0]) : yTickLabels;
    const ya = g.append("g").attr("transform", `translate(${x0},0)`)
      .call(d3.axisLeft(y).tickValues(vals).tickSize(0).tickPadding(8).tickFormat(fmtTick));
    ya.select(".domain").remove();
    ya.attr("font-family", SERIF).attr("font-size", TICK_FONT);
    ya.selectAll("text").attr("fill", "#000");
  }

  // x tick labels on the bottom row
  if (row === 3) {
    const vals = col === 0 ? xTickLabels.slice(0, -1) : xTickLabels;
    const xa = g.append("g").attr("transform", `translate(0,${y0 + panelH})`)
      .call(d3.axisBottom(x).tickValues(vals).tickSize(0).tickPadding(8).tickFormat(d3.format(".1f")));
    xa.select(".domain").remove();
    xa.attr("font-family", SERIF).attr("font-size", TICK_FONT);
    xa.selectAll("text").attr("fill", "#000");
  }

  // frame
  g.append("rect").attr("x", x0).attr("y", y0).attr("width", panelW).attr("height", panelH)
    .attr("fill", "none").attr("stroke", "#000").attr("stroke-width", 2.2);

  // cos label
  g.append("text")
    .attr("x", x0 + 22)
    .attr("y", p.labelAtBottom ? y0 + panelH - 19 : y0 + 38)
    .attr("font-size", 24).attr("fill", "#000")
    .text(p.label);
});

// y axis title
svg.append("text").attr("x", 36).attr("y", 392)
  .attr("text-anchor", "middle").attr("font-size", 38).attr("font-style", "italic")
  .text("P");

// x axis title
const xt = svg.append("text").attr("x", 382).attr("y", 762)
  .attr("text-anchor", "middle").attr("font-size", 27);
xt.append("tspan").attr("font-style", "italic").text("W");
xt.append("tspan").text(" (GeV)");

// title: p (γ, K+) Λ with an arrow over Λ
// (the tspan dx offsets are not part of getComputedTextLength, so add them back)
const tg = svg.append("g");
const t1 = tg.append("text").attr("x", 0).attr("y", 42).attr("font-size", 27);
t1.append("tspan").attr("font-style", "italic").text("p");
t1.append("tspan").attr("dx", 7).text("(γ,");
t1.append("tspan").attr("dx", 6).attr("font-style", "italic").text("K");
t1.append("tspan").attr("font-size", 17).attr("dy", -10).text("+");
t1.append("tspan").attr("dy", 10).text(")");
const len1 = t1.node().getComputedTextLength() + 7 + 6 + 11;
const t2 = tg.append("text").attr("x", len1).attr("y", 42).attr("font-size", 27).text("Λ");
const len2 = t2.node().getComputedTextLength();
const ax1 = len1 + 3, ax2 = len1 + len2 + 6, ay = 13;
tg.append("line").attr("x1", ax1).attr("x2", ax2 - 1).attr("y1", ay).attr("y2", ay)
  .attr("stroke", "#000").attr("stroke-width", 1.3);
tg.append("path")
  .attr("d", `M${ax2 - 7},${ay - 5} L${ax2},${ay} L${ax2 - 7},${ay + 5}`)
  .attr("fill", "none").attr("stroke", "#000").attr("stroke-width", 1.3);
tg.attr("transform", `translate(${383 - (len1 + len2) / 2},0)`);
</script>
</body>
</html>
